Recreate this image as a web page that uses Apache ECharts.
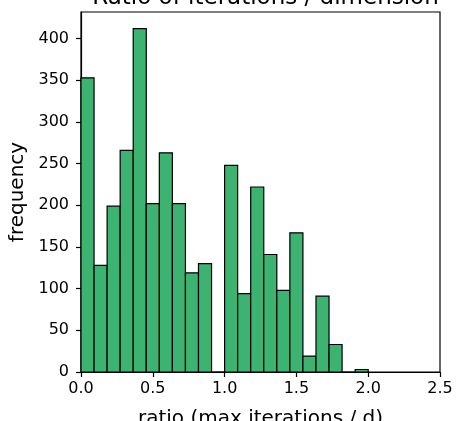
<!DOCTYPE html>
<html>
<head>
<meta charset="utf-8">
<script src="https://cdn.jsdelivr.net/npm/echarts@6/dist/echarts.min.js"></script>
<style>html,body{margin:0;padding:0;background:#fff}#c{width:457px;height:421px}</style>
</head>
<body>
<div id="c"></div>
<script>
// Histogram data (22 bins from 0 to 2.0)
var binStart = 0;
var binEnd = 2.0;
var counts = [353, 128, 199, 266, 412, 202, 263, 202, 119, 130, 0, 248, 94, 222, 141, 98, 167, 19, 91, 33, 0, 3];
var xTicks = [0, 0.5, 1.0, 1.5, 2.0, 2.5];
var yTicks = [0, 50, 100, 150, 200, 250, 300, 350, 400];

var binW = (binEnd - binStart) / counts.length;
var barData = counts.map(function (c, i) {
  return [binStart + i * binW, binStart + (i + 1) * binW, c];
});

var font = 'DejaVu Sans';
var chart = echarts.init(document.getElementById('c'), null, {renderer: 'canvas'});
chart.setOption({
  animation: false,
  title: {
    text: 'Ratio of iterations / dimension',
    left: 260.5, textAlign: 'center', top: -18,
    textStyle: {fontFamily: font, fontSize: 23, fontWeight: 'normal', color: '#000'}
  },
  grid: {left: 81, right: 17, top: 12, bottom: 49, containLabel: false, outerBoundsMode: 'none',
    show: true, borderColor: '#000', borderWidth: 1.2, backgroundColor: 'transparent'},
  xAxis: {
    type: 'value', min: 0, max: 2.5, interval: 0.5,
    name: 'ratio (max iterations / d)', nameLocation: 'middle', nameGap: 37,
    nameTextStyle: {fontFamily: font, fontSize: 20, color: '#000'},
    axisLine: {show: true, lineStyle: {color: '#000', width: 1.2}},
    axisTick: {show: true, length: 5, lineStyle: {color: '#000', width: 1.2}},
    axisLabel: {fontFamily: font, fontSize: 16, color: '#000', margin: 9,
      formatter: function (v) { return v.toFixed(1); }},
    splitLine: {show: false}
  },
  yAxis: {
    type: 'value', min: 0, max: 432, interval: 50,
    name: 'frequency', nameLocation: 'middle', nameGap: 49,
    nameTextStyle: {fontFamily: font, fontSize: 20, color: '#000'},
    axisLine: {show: true, lineStyle: {color: '#000', width: 1.2}},
    axisTick: {show: true, length: 5, lineStyle: {color: '#000', width: 1.2}},
    axisLabel: {fontFamily: font, fontSize: 16, color: '#000', margin: 12, showMaxLabel: false,
      formatter: function (v) { return yTicks.indexOf(v) >= 0 ? String(v) : ''; }},
    splitLine: {show: false}
  },
  series: [{
    type: 'custom',
    data: barData,
    renderItem: function (params, api) {
      var p0 = api.coord([api.value(0), api.value(2)]);
      var p1 = api.coord([api.value(1), 0]);
      return {
        type: 'rect',
        shape: {x: p0[0], y: p0[1], width: p1[0] - p0[0], height: p1[1] - p0[1]},
        style: {fill: '#3CB371', stroke: '#000', lineWidth: 1.2}
      };
    }
  }]
});
</script>
</body>
</html>
